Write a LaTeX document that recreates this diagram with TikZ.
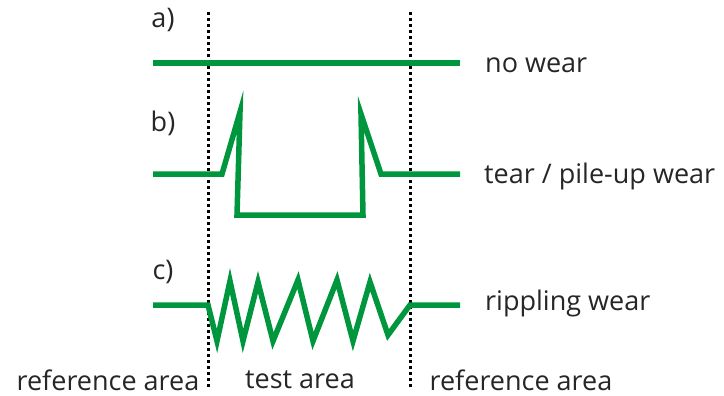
\documentclass[tikz,border=0pt]{standalone}
\usepackage{fontspec}
\setmainfont{Open Sans}
\usepackage{tikz}
\usetikzlibrary{positioning}
\definecolor{weargreen}{RGB}{0,150,62}
\tikzset{
  profile/.style={line width=5.5pt, weargreen, line join=miter, miter limit=20},
  boundary/.style={line width=3pt, black, dash pattern=on 3pt off 3pt},
  caselabel/.style={font=\fontsize{27}{32}\selectfont, text=black!85, inner sep=0pt},
  wearlabel/.style={font=\fontsize{27}{32}\selectfont, text=black!85, anchor=west, inner sep=0pt},
  arealabel/.style={font=\fontsize{27}{32}\selectfont, text=black!85, inner sep=0pt}
}
\begin{document}
\begin{tikzpicture}[x=1pt, y=-1pt]
      \useasboundingbox (0,0) rectangle (724,396);
      % area boundaries
      \draw[boundary] (208,12) -- (208,388);
      \draw[boundary] (410,12) -- (410,388);
      % a) no wear
      \draw[profile] (153,63) -- (460,63);
      % b) tear / pile-up
      \draw[profile] (153,174) -- (222,174) -- (240,112) -- (237,215) -- (363,215)
        -- (361,114) -- (381,174) -- (460,174);
      % c) rippling
      \draw[profile] (153,305) -- (208,305) -- (217,341) -- (230,281) -- (243,341)
        -- (258,282) -- (273,341) -- (298,280) -- (313,341) -- (337,280)
        -- (353,341) -- (370,282) -- (388,335) -- (410,305) -- (460,305);
      \node[caselabel] (casea) at (163,20) {a)};
      \node[caselabel] (caseb) at (163,123) {b)};
      \node[caselabel] (casec) at (163,272) {c)};
      \node[wearlabel] (nowear) at (485,65) {no wear};
      \node[wearlabel] (tearwear) at (484,176) {tear / pile-up wear};
      \node[wearlabel] (ripplewear) at (485,303) {rippling wear};
      \node[arealabel] (refleft) at (108,380) {reference area};
      \node[arealabel] (testarea) at (300,380) {test area};
      \node[arealabel] (refright) at (521,380) {reference area};
    \end{tikzpicture}
\end{document}
